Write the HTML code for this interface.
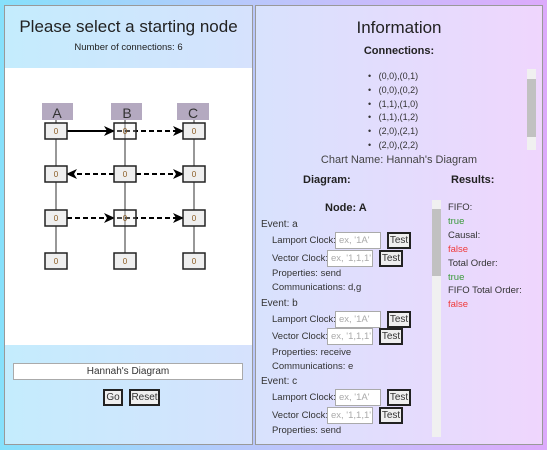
<!DOCTYPE html>
<html><head><style>
*{margin:0;padding:0;box-sizing:border-box}
body{width:547px;height:450px;overflow:hidden;background:linear-gradient(90deg,#86e0fb,#b8c8fb 45%,#dcaafb);font-family:"Liberation Sans",sans-serif;color:#333;position:relative}
.a{position:absolute;white-space:nowrap}
.t{font-size:10px;line-height:12px}
.inp{position:absolute;background:#fff;border:1px solid #aaa;font-size:9.5px;line-height:11px;color:#aaa;padding:2px 3px;height:17px;width:46px;white-space:nowrap;overflow:hidden}
.btn{position:absolute;background:#efefef;border:2px solid #222;font-size:10px;color:#333;text-align:center;line-height:13px;height:17px;white-space:nowrap}
</style></head><body>
<div class="a" style="left:4px;top:5px;width:249px;height:440px;border:1px solid #999;background:linear-gradient(90deg,#c4ecfd,#d6e2fd)"></div>
<div class="a" style="left:5px;top:68px;width:247px;height:277px;background:#fff"></div>
<div class="a" style="left:5px;top:17px;width:247px;text-align:center;font-size:17px;color:#222">Please select a starting node</div>
<div class="a t" style="left:5px;top:42px;width:247px;text-align:center;font-size:9.5px;color:#222">Number of connections: 6</div>
<svg class="a" style="left:0;top:0" width="253" height="345">
<defs><marker id="ar" markerWidth="11" markerHeight="10" refX="10" refY="5" orient="auto" markerUnits="userSpaceOnUse"><path d="M0,0 L11,5 L0,10 L3,5z" fill="#000"/></marker></defs>
<g fill="#b4a9c0"><rect x="42" y="103" width="31" height="17"/><rect x="111" y="103" width="31" height="17"/><rect x="177" y="103" width="32" height="17"/></g>
<g font-family="Liberation Sans" font-size="14" fill="#333" text-anchor="middle"><text x="57" y="118">A</text><text x="127" y="118">B</text><text x="193" y="118">C</text></g>
<g stroke="#777" stroke-width="1.5"><line x1="56" y1="120" x2="56" y2="255"/><line x1="125" y1="120" x2="125" y2="255"/><line x1="194" y1="120" x2="194" y2="255"/></g>
<g stroke="#000" stroke-width="2" fill="none">
<line x1="67" y1="131" x2="114" y2="131" marker-end="url(#ar)"/>
<line x1="117" y1="131" x2="183" y2="131" stroke-dasharray="5,3" marker-end="url(#ar)"/>
<line x1="114" y1="174" x2="67" y2="174" stroke-dasharray="5,3" marker-end="url(#ar)"/>
<line x1="136" y1="174" x2="183" y2="174" stroke-dasharray="5,3" marker-end="url(#ar)"/>
<line x1="67" y1="218" x2="114" y2="218" stroke-dasharray="5,3" marker-end="url(#ar)"/>
<line x1="117" y1="218" x2="183" y2="218" stroke-dasharray="5,3" marker-end="url(#ar)"/>
</g>
<g fill="#efefef" stroke="#222" stroke-width="1.5">
<rect x="45" y="123" width="22" height="16"/><rect x="114" y="123" width="22" height="16" fill-opacity="0.3"/><rect x="183" y="123" width="22" height="16"/>
<rect x="45" y="166" width="22" height="16"/><rect x="114" y="166" width="22" height="16"/><rect x="183" y="166" width="22" height="16"/>
<rect x="45" y="210" width="22" height="16"/><rect x="114" y="210" width="22" height="16" fill-opacity="0.3"/><rect x="183" y="210" width="22" height="16"/>
<rect x="45" y="253" width="22" height="16"/><rect x="114" y="253" width="22" height="16"/><rect x="183" y="253" width="22" height="16"/>
</g>
<g font-family="Liberation Sans" font-size="8" fill="#8a5a20" text-anchor="middle">
<text x="56" y="134">0</text><text x="125" y="134">0</text><text x="194" y="134">0</text>
<text x="56" y="177">0</text><text x="125" y="177">0</text><text x="194" y="177">0</text>
<text x="56" y="221">0</text><text x="125" y="221">0</text><text x="194" y="221">0</text>
<text x="56" y="264">0</text><text x="125" y="264">0</text><text x="194" y="264">0</text>
</g>
</svg>
<div class="a" style="left:13px;top:363px;width:230px;height:17px;background:#fff;border:1px solid #aaa;text-align:center;font-size:10px;line-height:15px;color:#333">Hannah's Diagram</div>
<div class="btn" style="left:103px;top:389px;width:20px">Go</div>
<div class="btn" style="left:129px;top:389px;width:31px">Reset</div>
<div class="a" style="left:255px;top:5px;width:288px;height:440px;border:1px solid #999;background:linear-gradient(90deg,#d8e2fd,#efd6fd)"></div>
<div class="a" style="left:255px;top:18px;width:288px;text-align:center;font-size:17px;color:#222">Information</div>
<div class="a" style="left:255px;top:45px;width:288px;text-align:center;font-size:11px;font-weight:bold;color:#222">Connections:</div>
<div class="a t" style="left:368px;top:70px;font-size:9px;line-height:13.8px">
• &nbsp; (0,0),(0,1)<br>• &nbsp; (0,0),(0,2)<br>• &nbsp; (1,1),(1,0)<br>• &nbsp; (1,1),(1,2)<br>• &nbsp; (2,0),(2,1)<br>• &nbsp; (2,0),(2,2)</div>
<div class="a" style="left:527px;top:69px;width:9px;height:81px;background:#f0f0f0"><div style="margin-top:10px;height:58px;background:#c1c1c1"></div></div>
<div class="a" style="left:255px;top:154px;width:288px;text-align:center;font-size:11px;color:#444">Chart Name: Hannah's Diagram</div>
<div class="a" style="left:303px;top:174px;font-size:11px;font-weight:bold;color:#222">Diagram:</div>
<div class="a" style="left:451px;top:174px;font-size:11px;font-weight:bold;color:#222">Results:</div>
<div class="a" style="left:325px;top:202px;font-size:11px;font-weight:bold;color:#222">Node: A</div>
<div class="a" style="left:432px;top:200px;width:9px;height:237px;background:#f0f0f0"><div style="margin-top:9px;height:67px;background:#c1c1c1"></div></div>
<div class="a t" style="left:261px;top:219px">Event: a</div>
<div class="a t" style="left:272px;top:235px;font-size:9.5px">Lamport Clock:</div><div class="inp" style="left:335px;top:232px">ex, '1A'</div><div class="btn" style="left:387px;top:232px;width:24px">Test</div>
<div class="a t" style="left:272px;top:253px;font-size:9.5px">Vector Clock:</div><div class="inp" style="left:327px;top:250px">ex, '1,1,1'</div><div class="btn" style="left:379px;top:250px;width:24px">Test</div>
<div class="a t" style="left:272px;top:268px;font-size:9.5px">Properties: send</div>
<div class="a t" style="left:272px;top:282px;font-size:9.5px">Communications: d,g</div>
<div class="a t" style="left:261px;top:298px">Event: b</div>
<div class="a t" style="left:272px;top:314px;font-size:9.5px">Lamport Clock:</div><div class="inp" style="left:335px;top:311px">ex, '1A'</div><div class="btn" style="left:387px;top:311px;width:24px">Test</div>
<div class="a t" style="left:272px;top:331px;font-size:9.5px">Vector Clock:</div><div class="inp" style="left:327px;top:328px">ex, '1,1,1'</div><div class="btn" style="left:379px;top:328px;width:24px">Test</div>
<div class="a t" style="left:272px;top:347px;font-size:9.5px">Properties: receive</div>
<div class="a t" style="left:272px;top:361px;font-size:9.5px">Communications: e</div>
<div class="a t" style="left:261px;top:376px">Event: c</div>
<div class="a t" style="left:272px;top:392px;font-size:9.5px">Lamport Clock:</div><div class="inp" style="left:335px;top:389px">ex, '1A'</div><div class="btn" style="left:387px;top:389px;width:24px">Test</div>
<div class="a t" style="left:272px;top:410px;font-size:9.5px">Vector Clock:</div><div class="inp" style="left:327px;top:407px">ex, '1,1,1'</div><div class="btn" style="left:379px;top:407px;width:24px">Test</div>
<div class="a t" style="left:272px;top:425px;font-size:9.5px">Properties: send</div>
<div class="a t" style="left:448px;top:201px;font-size:9.5px;line-height:13.9px">FIFO:<br><span style="color:#3a9a3a">true</span><br>Causal:<br><span style="color:#f03a3a">false</span><br>Total Order:<br><span style="color:#3a9a3a">true</span><br>FIFO Total Order:<br><span style="color:#f03a3a">false</span></div>
</body></html>
